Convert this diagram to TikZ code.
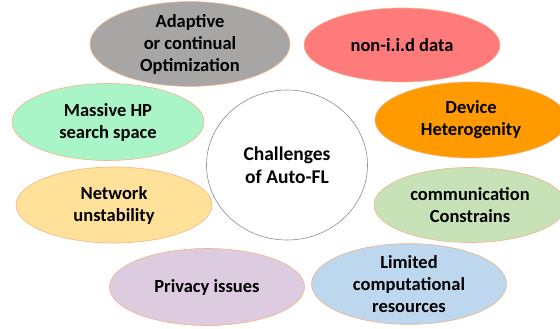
\documentclass[tikz,border=0pt]{standalone}
\usepackage{fontspec}
\setmainfont{Carlito}
\usetikzlibrary{shapes.geometric}
\definecolor{cgray}{HTML}{A8A5A5}
\definecolor{cred}{HTML}{FF7B7B}
\definecolor{cmint}{HTML}{AAF5C8}
\definecolor{cyel}{HTML}{FFE199}
\definecolor{corange}{HTML}{FF9A00}
\definecolor{cgreen}{HTML}{C8E2B8}
\definecolor{clav}{HTML}{DDCBDF}
\definecolor{cblue}{HTML}{BDD7EE}
\definecolor{cborder}{HTML}{F2B48A}
\tikzset{
  x=1pt, y=-1pt,
  chal/.style={ellipse, draw=cborder, line width=0.6pt, inner sep=0pt,
    font=\bfseries\fontsize{18.5}{22}\selectfont, align=center, text=black},
  hub/.style={ellipse, draw=black!45, line width=0.6pt, fill=white, inner sep=0pt,
    font=\bfseries\fontsize{19.5}{23}\selectfont, align=center},
}
\begin{document}
\begin{tikzpicture}
\useasboundingbox (0,0) rectangle (560,329);
\node[chal, fill=cgray, minimum width=200pt, minimum height=80pt] (adapt) at (190,44) {Adaptive\\or continual\\Optimization};
\node[chal, fill=cred, minimum width=196pt, minimum height=74pt] (noniid) at (402,45) {non-i.i.d data};
\node[chal, fill=cmint, minimum width=192pt, minimum height=77pt] (hp) at (108,122) {Massive HP\\search space};
\node[chal, fill=cyel, minimum width=196pt, minimum height=76pt] (net) at (114,205) {Network\\unstability};
\node[chal, fill=corange, minimum width=192pt, minimum height=76pt] (dev) at (471,120) {Device\\Heterogenity};
\node[chal, fill=cgreen, minimum width=192pt, minimum height=75pt] (comm) at (470,205) {communication\\Constrains};
\node[chal, fill=clav, minimum width=195pt, minimum height=77pt] (priv) at (207,287) {Privacy issues};
\node[chal, fill=cblue, minimum width=195pt, minimum height=77pt] (lim) at (409,284) {Limited\\computational\\resources};
\node[hub, minimum width=161pt, minimum height=150pt] (hubn) at (287,165) {Challenges\\of Auto-FL};
\end{tikzpicture}
\end{document}
